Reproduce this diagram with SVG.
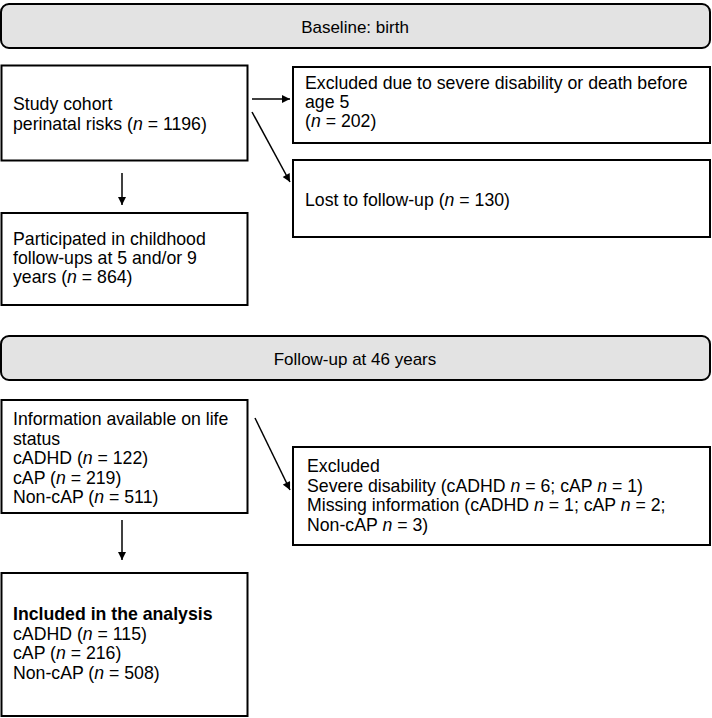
<svg xmlns="http://www.w3.org/2000/svg" width="712" height="718" viewBox="0 0 712 718">
<style>
.box{fill:#fff;stroke:#000;stroke-width:2}
.hdr{fill:#e3e3e3;stroke:#000;stroke-width:2}
text{font-family:"Liberation Sans",Arial,sans-serif;font-size:17.7px;fill:#000}
.h{font-size:17px}
.c{text-anchor:middle}
.i{font-style:italic}
.b{font-weight:bold}
.ln{stroke:#000;stroke-width:1.5;fill:none;marker-end:url(#ah)}
</style>
<defs>
<marker id="ah" viewBox="0 0 10 10" refX="10" refY="5" markerWidth="9" markerHeight="8" markerUnits="userSpaceOnUse" orient="auto">
<path d="M0,0 L10,5 L0,10 z" fill="#000"/>
</marker>
</defs>
<rect width="712" height="718" fill="#fff"/>
<g id="header1">
<rect class="hdr" x="1" y="4" width="709" height="44" rx="8"/>
<text class="c h" x="355" y="33">Baseline: birth</text>
</g>
<g id="cohort">
<rect class="box" x="1.5" y="65.5" width="246" height="95"/>
<text x="13" y="110">Study cohort</text>
<text x="13" y="129.5">perinatal risks (<tspan class="i">n</tspan> = 1196)</text>
</g>
<g id="excluded1">
<rect class="box" x="293" y="67" width="417" height="76"/>
<text x="305" y="89">Excluded due to severe disability or death before</text>
<text x="305" y="108">age 5</text>
<text x="305" y="127">(<tspan class="i">n</tspan> = 202)</text>
</g>
<g id="lost">
<rect class="box" x="293" y="160" width="417" height="77"/>
<text x="305" y="206">Lost to follow-up (<tspan class="i">n</tspan> = 130)</text>
</g>
<g id="participated">
<rect class="box" x="1.5" y="213" width="246" height="92"/>
<text x="13" y="245">Participated in childhood</text>
<text x="13" y="264">follow-ups at 5 and/or 9</text>
<text x="13" y="283">years (<tspan class="i">n</tspan> = 864)</text>
</g>
<g id="header2">
<rect class="hdr" x="1" y="336" width="709" height="44" rx="8"/>
<text class="c h" x="355" y="365">Follow-up at 46 years</text>
</g>
<g id="info">
<rect class="box" x="1.5" y="400" width="246" height="113"/>
<text x="13" y="425">Information available on life</text>
<text x="13" y="444.5">status</text>
<text x="13" y="464">cADHD (<tspan class="i">n</tspan> = 122)</text>
<text x="13" y="483.5">cAP (<tspan class="i">n</tspan> = 219)</text>
<text x="13" y="503">Non-cAP (<tspan class="i">n</tspan> = 511)</text>
</g>
<g id="excluded2">
<rect class="box" x="293" y="447" width="417" height="98"/>
<text x="307" y="472">Excluded</text>
<text x="307" y="491.5">Severe disability (cADHD <tspan class="i">n</tspan> = 6; cAP <tspan class="i">n</tspan> = 1)</text>
<text x="307" y="511">Missing information (cADHD <tspan class="i">n</tspan> = 1; cAP <tspan class="i">n</tspan> = 2;</text>
<text x="307" y="530.5">Non-cAP <tspan class="i">n</tspan> = 3)</text>
</g>
<g id="included">
<rect class="box" x="1.5" y="573" width="246" height="143"/>
<text x="13" y="620" class="b">Included in the analysis</text>
<text x="13" y="639.5">cADHD (<tspan class="i">n</tspan> = 115)</text>
<text x="13" y="659">cAP (<tspan class="i">n</tspan> = 216)</text>
<text x="13" y="678.5">Non-cAP (<tspan class="i">n</tspan> = 508)</text>
</g>
<g id="connectors">
<line class="ln" x1="252" y1="99" x2="290" y2="99"/>
<line class="ln" x1="252" y1="112" x2="290" y2="182"/>
<line class="ln" x1="122" y1="173" x2="122" y2="205"/>
<line class="ln" x1="255" y1="418" x2="290" y2="490"/>
<line class="ln" x1="122" y1="520" x2="122" y2="560"/>
</g>
</svg>
